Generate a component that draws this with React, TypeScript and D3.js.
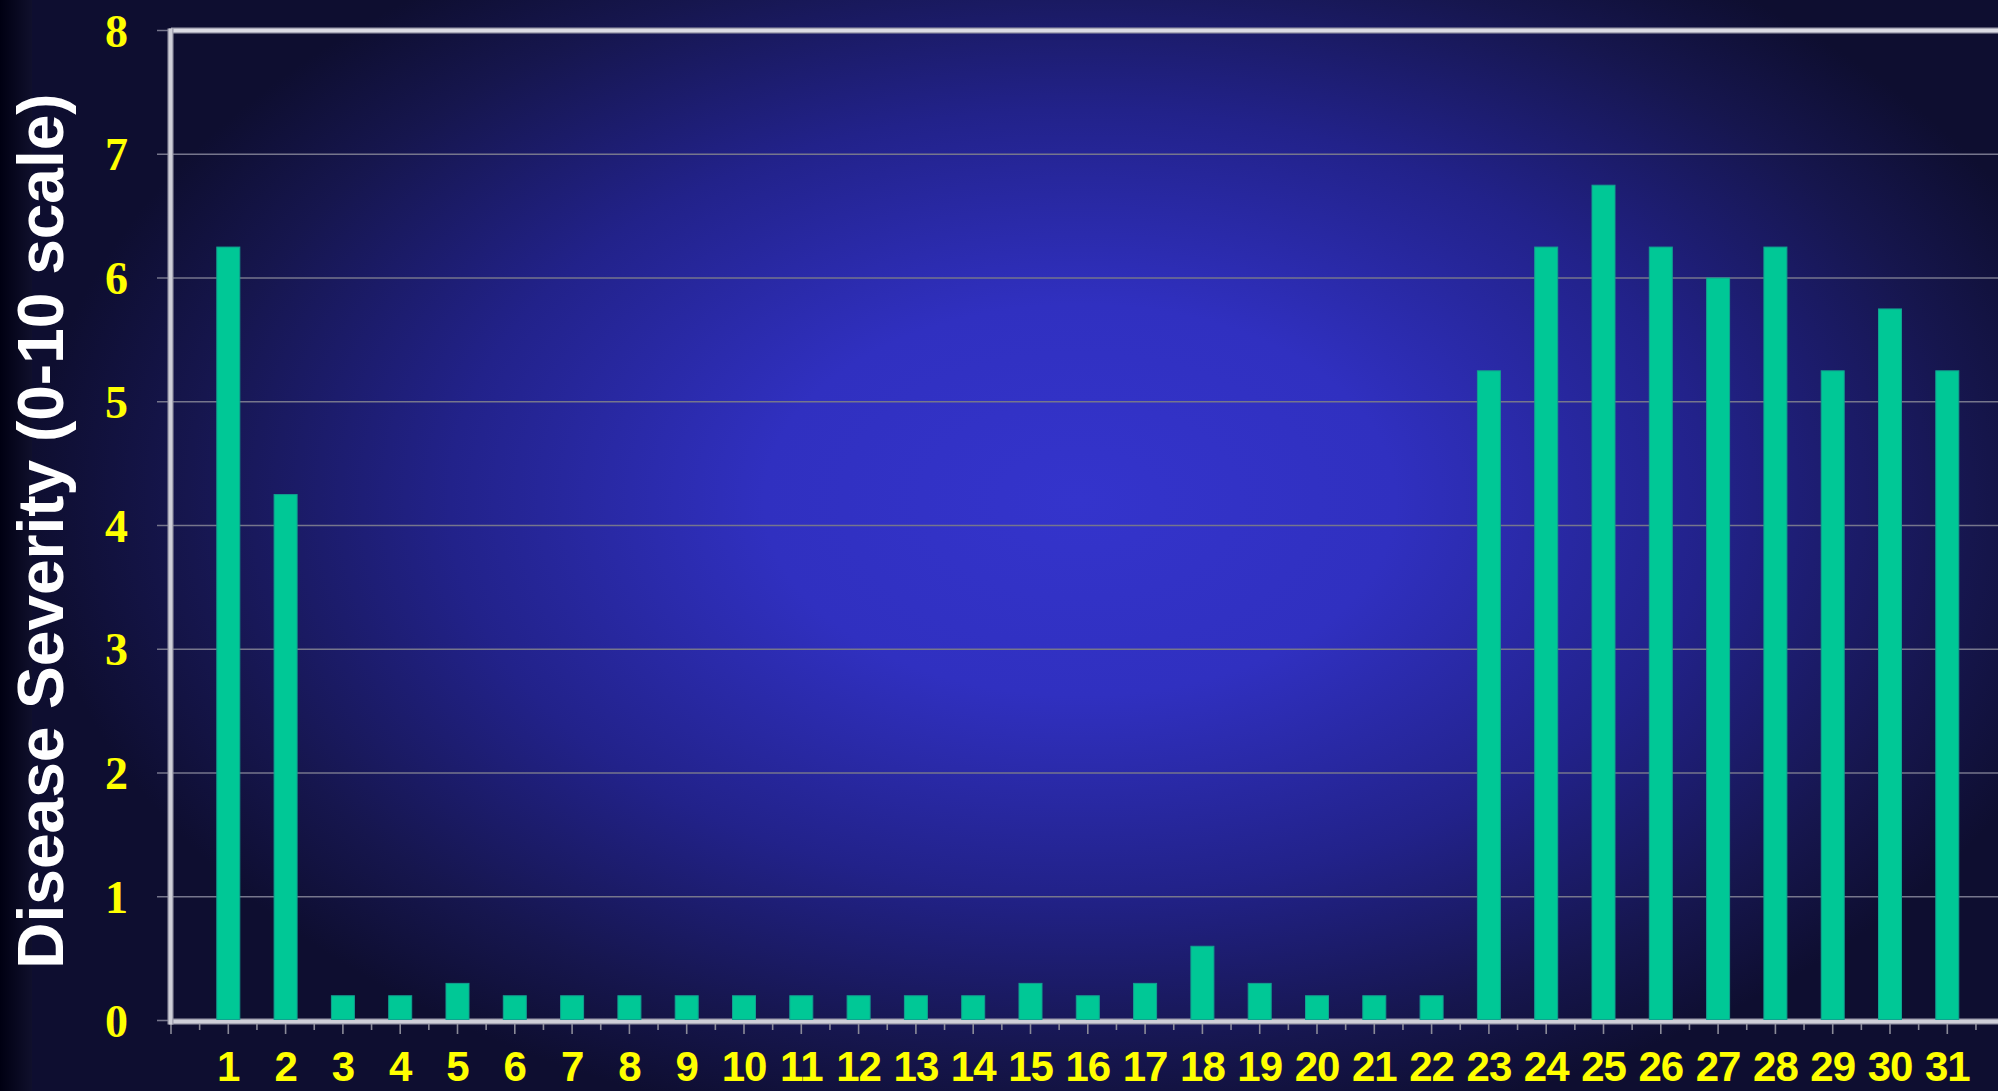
import React from "react";
import * as d3 from "d3";

const categories: number[] = Array.from({ length: 31 }, (_, i) => i + 1);
const severity: number[] = [
  6.25, 4.25, 0.2, 0.2, 0.3, 0.2, 0.2, 0.2, 0.2, 0.2, 0.2, 0.2, 0.2, 0.2, 0.3,
  0.2, 0.3, 0.6, 0.3, 0.2, 0.2, 0.2, 5.25, 6.25, 6.75, 6.25, 6.0, 6.25, 5.25,
  5.75, 5.25,
];
const yTicks: number[] = [0, 1, 2, 3, 4, 5, 6, 7, 8];
const yTitle = "Disease Severity (0-10 scale)";

const W = 1998;
const H = 1091;

export default function App() {
  const x = d3.scaleLinear().domain([0, 32]).range([171, 171 + 32 * 57.3]);
  const y = d3.scaleLinear().domain([0, 8]).range([1020.5, 30.5]);
  const barW = 23;
  const halfTicks = d3.range(0.5, 32, 1);
  const fullTicks = d3.range(0, 33, 1);
  const x0 = x(0);
  const x1 = x(32);

  return (
    <svg
      width={W}
      height={H}
      style={{ position: "absolute", left: 0, top: 0, display: "block" }}
    >
      <defs>
        <radialGradient
          id="bg"
          gradientUnits="userSpaceOnUse"
          cx={1080}
          cy={500}
          r={1050}
          gradientTransform="translate(1080 500) scale(1 0.62) translate(-1080 -500)"
        >
          <stop offset="0" stopColor="#3434cc" />
          <stop offset="0.3" stopColor="#3030c0" />
          <stop offset="0.6" stopColor="#22228a" />
          <stop offset="0.85" stopColor="#16164e" />
          <stop offset="1" stopColor="#0e0e30" />
        </radialGradient>
        <linearGradient id="leftStrip" x1="0" x2="1" y1="0" y2="0">
          <stop offset="0" stopColor="#000012" />
          <stop offset="1" stopColor="#10102c" />
        </linearGradient>
      </defs>
      <rect x={0} y={0} width={W} height={H} fill="#0e0e30" />
      <rect x={0} y={0} width={W} height={H} fill="url(#bg)" />
      <rect x={0} y={0} width={32} height={H} fill="url(#leftStrip)" />

      {/* gridlines */}
      {yTicks.slice(1).map((t) => (
        <line
          key={"g" + t}
          x1={x0 - 14}
          x2={x1}
          y1={y(t)}
          y2={y(t)}
          stroke="#76768c"
          strokeWidth={1.6}
        />
      ))}
      <line x1={x0 - 14} x2={x0} y1={y(0)} y2={y(0)} stroke="#76768c" strokeWidth={1.6} />

      {/* x ticks */}
      {fullTicks.map((t) => (
        <line
          key={"xt" + t}
          x1={x(t)}
          x2={x(t)}
          y1={y(0)}
          y2={1034}
          stroke="#8a8a98"
          strokeWidth={1.6}
        />
      ))}
      {halfTicks.map((t) => (
        <line
          key={"xh" + t}
          x1={x(t)}
          x2={x(t)}
          y1={y(0)}
          y2={1030}
          stroke="#8a8a98"
          strokeWidth={1.6}
        />
      ))}

      {/* frame */}
      <line x1={x0} x2={x1} y1={y(8)} y2={y(8)} stroke="#9a9aaa" strokeWidth={6} />
      <line x1={x0} x2={x1} y1={y(8)} y2={y(8)} stroke="#dcdce4" strokeWidth={3.5} />
      <line x1={x0 - 0.5} x2={x1} y1={y(0) + 1} y2={y(0) + 1} stroke="#9a9aaa" strokeWidth={6} />
      <line x1={x0 - 0.5} x2={x1} y1={y(0) + 1} y2={y(0) + 1} stroke="#cfcfd8" strokeWidth={3.5} />
      <line x1={x0 - 0.5} x2={x0 - 0.5} y1={y(8) - 2} y2={y(0) + 4} stroke="#9a9aaa" strokeWidth={6} />
      <line x1={x0 - 0.5} x2={x0 - 0.5} y1={y(8) - 2} y2={y(0) + 4} stroke="#cfcfd8" strokeWidth={3.5} />

      {/* bars */}
      {severity.map((v, i) => (
        <rect
          key={"b" + i}
          x={x(categories[i]) - barW / 2}
          y={y(v)}
          width={barW}
          height={y(0) - y(v) - 1}
          fill="#00c896"
          stroke="#12a090"
          strokeWidth={1}
        />
      ))}

      {/* y labels */}
      {yTicks.map((t) => (
        <text
          key={"yl" + t}
          x={128}
          y={y(t) + 16}
          textAnchor="end"
          fill="#ffff00"
          fontFamily="'Liberation Serif', 'Times New Roman', serif"
          fontWeight="bold"
          fontSize={46}
        >
          {t}
        </text>
      ))}

      {/* x labels */}
      {categories.map((c) => (
        <text
          key={"xl" + c}
          x={x(c)}
          y={1081}
          textAnchor="middle"
          fill="#ffff00"
          fontFamily="'Liberation Sans', Arial, sans-serif"
          fontWeight="bold"
          fontSize={42}
          letterSpacing={-1}
        >
          {c}
        </text>
      ))}

      {/* y title */}
      <text
        transform={`translate(63, 531) rotate(-90)`}
        textAnchor="middle"
        fill="#ffffff"
        fontFamily="'Liberation Sans', Arial, sans-serif"
        fontWeight="bold"
        fontSize={64}
      >
        {yTitle}
      </text>
    </svg>
  );
}
